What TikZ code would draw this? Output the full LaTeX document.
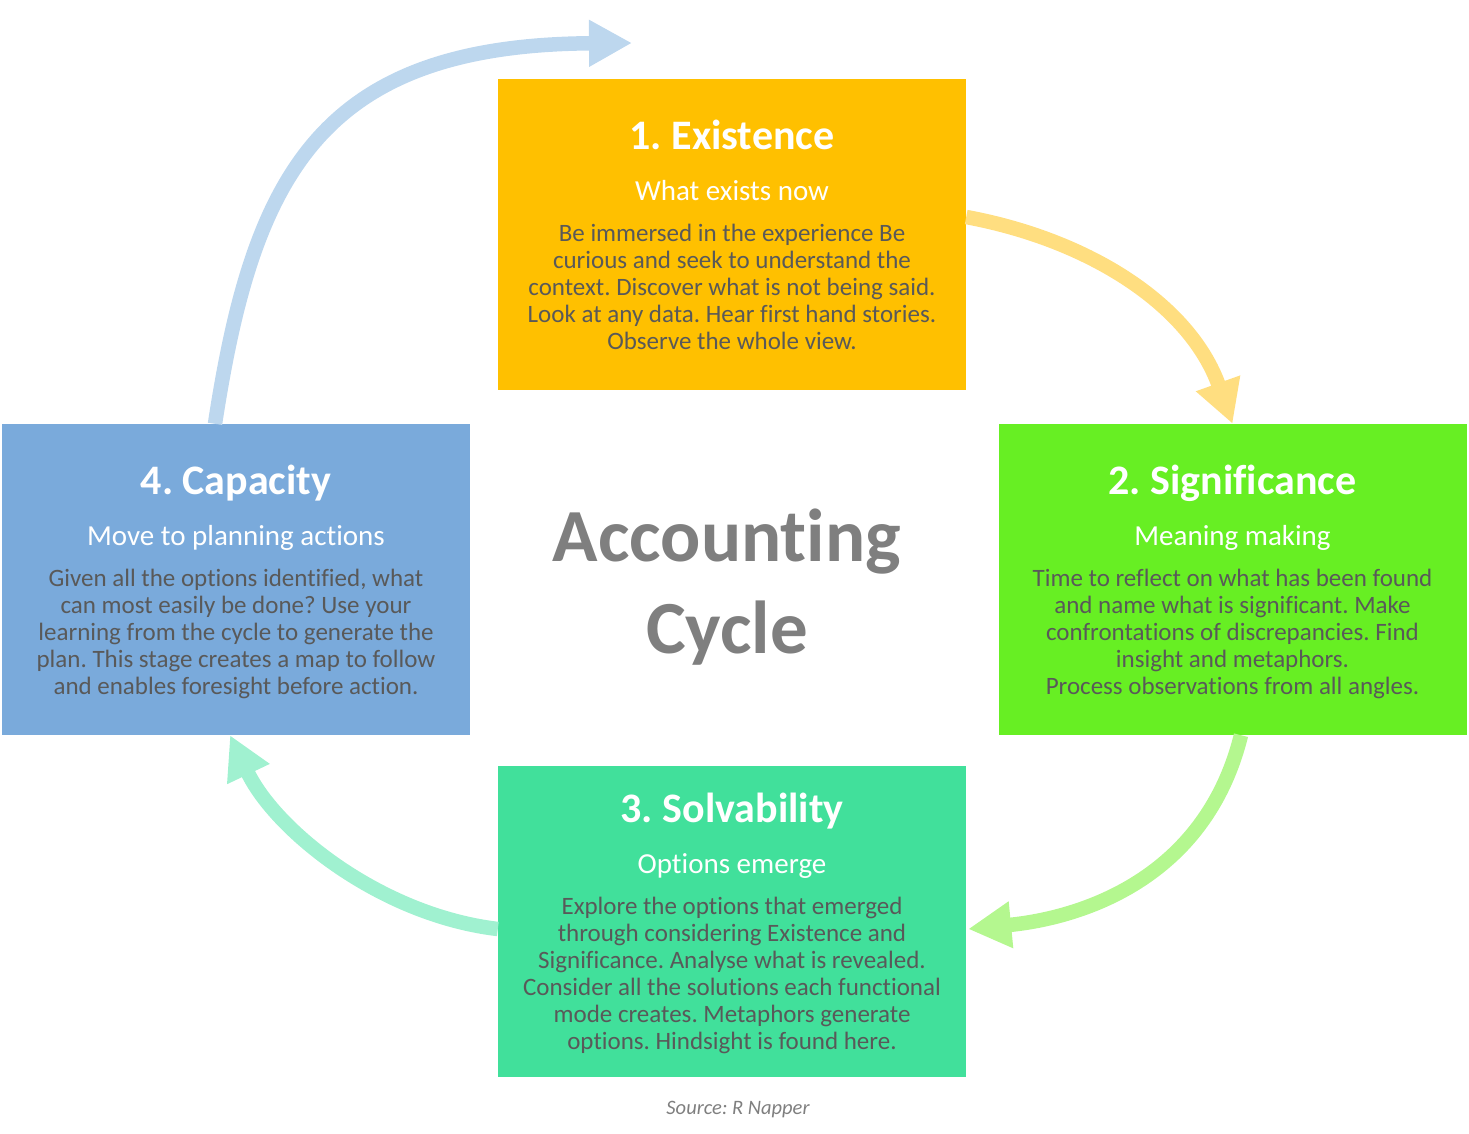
\documentclass[tikz,border=0pt]{standalone}
\usepackage{fontspec}
\setmainfont{Carlito}[Ligatures={NoCommon}]
\frenchspacing
\usetikzlibrary{arrows.meta,calc}
\definecolor{existc}{RGB}{255,192,0}
\definecolor{signc}{RGB}{103,239,35}
\definecolor{solvc}{RGB}{65,224,155}
\definecolor{capc}{RGB}{122,170,219}
\definecolor{exista}{RGB}{255,222,128}
\definecolor{signa}{RGB}{180,247,143}
\definecolor{solva}{RGB}{160,241,208}
\definecolor{capa}{RGB}{189,215,238}
\definecolor{bodygray}{RGB}{89,89,89}
\definecolor{titlegray}{RGB}{127,127,127}
\begin{document}
\begin{tikzpicture}[x=1pt,y=-1pt,
    stagebox/.style={rectangle,minimum width=468pt,minimum height=311pt,inner sep=0pt},
    stagetitle/.style={anchor=base,text=white,font=\fontsize{42}{50}\selectfont\bfseries},
    stagesub/.style={anchor=base,text=white,font=\fontsize{29}{34}\selectfont},
    stagebody/.style={anchor=north,inner sep=0pt,align=center,text=bodygray,font=\fontsize{25}{27}\selectfont},
    cyclearrow/.style={line width=14.5pt,-{Triangle[width=44pt,length=43pt]}}]
  \useasboundingbox (0,0) rectangle (1469,1133);
  \node[stagebox,fill=existc] (exist) at (732,234) {};
  \node[stagebox,fill=signc] (signif) at (1232.5,579.5) {};
  \node[stagebox,fill=solvc] (solv) at (732,921) {};
  \node[stagebox,fill=capc] (capac) at (236,579.5) {};

  \node[stagetitle] (exist-t) at ($(exist.north)+(0,71)$) {1. Existence};
  \node[stagesub] (exist-s) at ($(exist.north)+(0,122)$) {What exists now};
  \node[stagebody] (exist-b) at ($(exist.north)+(0,144)$) {\strut Be immersed in the experience Be\\
    curious and seek to understand the\\
    context. Discover what is not being said.\\
    Look at any data. Hear first hand stories.\\
    Observe the whole view.};

  \node[stagetitle] (signif-t) at ($(signif.north)+(0,71)$) {2. Significance};
  \node[stagesub] (signif-s) at ($(signif.north)+(0,122)$) {Meaning making};
  \node[stagebody] (signif-b) at ($(signif.north)+(0,144)$) {\strut Time to reflect on what has been found\\
    and name what is significant. Make\\
    confrontations of discrepancies. Find\\
    insight and metaphors.\\
    Process observations from all angles.};

  \node[stagetitle] (solv-t) at ($(solv.north)+(0,57)$) {3. Solvability};
  \node[stagesub] (solv-s) at ($(solv.north)+(0,108)$) {Options emerge};
  \node[stagebody] (solv-b) at ($(solv.north)+(0,130)$) {\strut Explore the options that emerged\\
    through considering Existence and\\
    Significance. Analyse what is revealed.\\
    Consider all the solutions each functional\\
    mode creates. Metaphors generate\\
    options. Hindsight is found here.};

  \node[stagetitle] (capac-t) at ($(capac.north)+(0,71)$) {4. Capacity};
  \node[stagesub] (capac-s) at ($(capac.north)+(0,122)$) {Move to planning actions};
  \node[stagebody] (capac-b) at ($(capac.north)+(0,144)$) {\strut Given all the options identified, what\\
    can most easily be done? Use your\\
    learning from the cycle to generate the\\
    plan. This stage creates a map to follow\\
    and enables foresight before action.};

  \node[anchor=north,inner sep=0pt,align=center,text=titlegray,font=\fontsize{75}{92}\selectfont\bfseries] (cycle) at (727,497) {\strut Accounting\\Cycle};
  \node[anchor=base,text=titlegray,font=\fontsize{20.5}{24}\selectfont\itshape] (source) at (738,1114) {Source: R Napper};

  \coordinate (loopend) at (632,43);
  \draw[cyclearrow,color=exista] ($(exist.east)+(0,-17)$) .. controls (1090,240) and (1190,305) .. (signif.north);
  \draw[cyclearrow,color=signa] ($(signif.south)+(8.5,0)$) .. controls (1205,880) and (1080,918) .. ($(solv.east)+(2,8)$);
  \draw[cyclearrow,color=solva] ($(solv.west)+(0,8)$) .. controls (380,915) and (275,830) .. ($(capac.south)+(-6,0)$);
  \draw[cyclearrow,color=capa] ($(capac.north)+(-21,0)$) .. controls (253,175) and (320,45) .. (loopend);
\end{tikzpicture}
\end{document}
